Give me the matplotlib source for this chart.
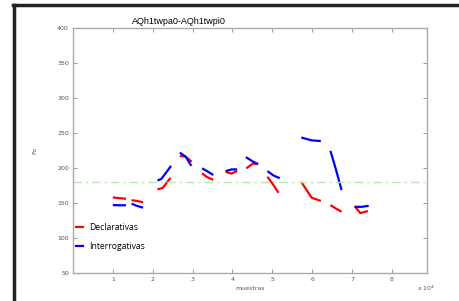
import matplotlib
matplotlib.use("Agg")
import matplotlib.pyplot as plt
import numpy as np
from matplotlib.lines import Line2D

# contour segments, x in units of 1e4 samples
decl_x = [
    [1.00, 1.15, 1.33],
    [1.47, 1.60, 1.76],
    [2.12, 2.25, 2.45],
    [2.68, 2.82, 2.98],
    [3.24, 3.35, 3.52],
    [3.83, 3.98, 4.12],
    [4.35, 4.52, 4.62],
    [4.88, 5.02, 5.16],
    [5.73, 5.99, 6.22],
    [6.46, 6.60, 6.74],
    [7.07, 7.21, 7.40],
]
decl_y = [
    [158.0, 157.0, 156.0],
    [154.0, 153.0, 151.0],
    [169.5, 171.5, 186.0],
    [217.0, 216.5, 209.0],
    [192.5, 187.5, 183.0],
    [194.5, 192.0, 196.0],
    [199.5, 206.5, 205.5],
    [187.5, 176.5, 164.5],
    [180.0, 157.5, 153.0],
    [147.0, 142.0, 137.5],
    [145.5, 135.5, 138.5],
]
inter_x = [
    [1.00, 1.15, 1.33],
    [1.47, 1.60, 1.76],
    [2.12, 2.22, 2.46],
    [2.68, 2.83, 2.97],
    [3.24, 3.38, 3.52],
    [3.83, 3.98, 4.12],
    [4.34, 4.52, 4.65],
    [4.88, 5.04, 5.19],
    [5.73, 5.99, 6.22],
    [6.46, 6.59, 6.74],
    [7.07, 7.24, 7.42],
]
inter_y = [
    [147.0, 146.8, 146.7],
    [149.0, 146.0, 143.3],
    [182.0, 184.5, 203.0],
    [222.0, 216.0, 203.0],
    [199.5, 195.0, 190.0],
    [195.5, 198.0, 198.0],
    [215.5, 209.0, 205.5],
    [195.5, 189.0, 185.5],
    [243.5, 239.5, 238.5],
    [224.5, 199.5, 168.5],
    [144.5, 144.5, 146.0],
]
threshold = 180.0

fig = plt.figure(figsize=(4.59, 3.01), dpi=100)
ax = fig.add_axes([0.159, 0.093, 0.771, 0.814])

for xs, ys in zip(decl_x, decl_y):
    ax.plot(np.array(xs) * 1e4, ys, color="#ff0000", lw=1.6, solid_capstyle="butt")
for xs, ys in zip(inter_x, inter_y):
    ax.plot(np.array(xs) * 1e4, ys, color="#0000ff", lw=1.6, solid_capstyle="butt")
ax.axhline(threshold, color="#b8e6b0", lw=1.0, ls=(0, (6, 3, 1.5, 3)))

ax.set_xlim(0, 8.88e4)
ax.set_ylim(50, 400)
ax.set_xticks(np.arange(1, 9) * 1e4)
ax.set_xticklabels([str(i) for i in range(1, 9)])
ax.set_yticks(np.arange(50, 401, 50))
ax.tick_params(direction="in", length=3, width=0.6, color="#888888",
               labelsize=4.5, labelcolor="#555555", top=True, right=True, pad=3)
for s in ax.spines.values():
    s.set_color("#aaaaaa")
    s.set_linewidth(1.0)

ax.set_title("AQh1twpa0-AQh1twpi0", fontsize=6.5, family="Liberation Sans",
             x=0.3, pad=3)
ax.set_xlabel("muestras", fontsize=4.5, color="#555555", labelpad=3)
ax.set_ylabel("Fo", fontsize=4.5, color="#555555", labelpad=14)
fig.text(0.908, 0.035, r"x 10$^4$", fontsize=4.5, color="#555555")

handles = [Line2D([], [], color="#ff0000", lw=1.6),
           Line2D([], [], color="#0000ff", lw=1.6)]
ax.legend(handles, ["Declarativas", "Interrogativas"], loc="lower left",
          bbox_to_anchor=(-0.012, 0.057), frameon=False, handlelength=0.8,
          handletextpad=0.7, labelspacing=1.25, prop={"family": "Open Sans", "size": 6.2})

# window frame
fig.add_artist(Line2D([0.031, 0.031], [0.0, 0.983], color="#222222", lw=2.5))
fig.add_artist(Line2D([0.029, 1.0], [0.983, 0.983], color="#222222", lw=2.5))

fig.savefig("out.png", dpi=100)
